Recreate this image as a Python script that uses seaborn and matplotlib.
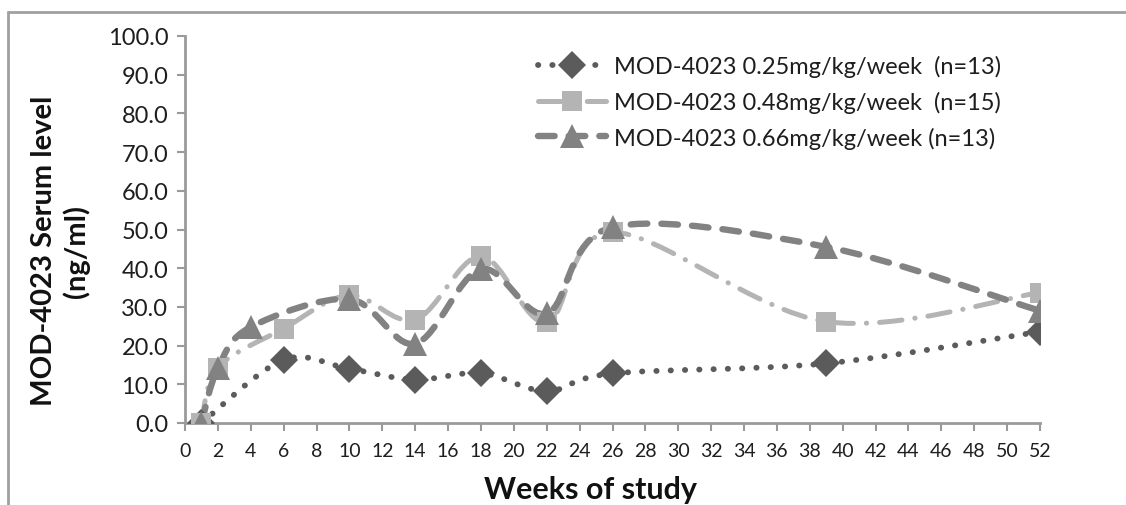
import numpy as np
import pandas as pd
import matplotlib
matplotlib.use("Agg")
import matplotlib.pyplot as plt
import seaborn as sns
from matplotlib.path import Path
from matplotlib.patches import PathPatch
from matplotlib.lines import Line2D

# ---- data ----
weeks_025 = [1, 6, 10, 14, 18, 22, 26, 39, 52]
level_025 = [0.0, 16.3, 14.0, 11.2, 12.9, 8.2, 12.8, 15.4, 23.6]
weeks_048 = [1, 2, 6, 10, 14, 18, 22, 26, 39, 52]
level_048 = [0.0, 14.3, 24.4, 33.0, 26.7, 43.1, 26.0, 49.3, 26.2, 33.7]
weeks_066 = [1, 2, 4, 10, 14, 18, 22, 26, 39, 52]
level_066 = [0.0, 14.2, 24.8, 32.0, 20.5, 39.8, 28.3, 50.6, 45.5, 29.0]
series_labels = ["MOD-4023 0.25mg/kg/week  (n=13)",
                 "MOD-4023 0.48mg/kg/week  (n=15)",
                 "MOD-4023 0.66mg/kg/week (n=13)"]
x_ticks = list(range(0, 53, 2))
y_ticks = list(range(0, 101, 10))

df = pd.concat([
    pd.DataFrame({"week": weeks_025, "level": level_025, "series": series_labels[0]}),
    pd.DataFrame({"week": weeks_048, "level": level_048, "series": series_labels[1]}),
    pd.DataFrame({"week": weeks_066, "level": level_066, "series": series_labels[2]}),
], ignore_index=True)

sns.set_theme(style="white")
plt.rcParams["font.family"] = ["Lato", "DejaVu Sans"]

colors = {series_labels[0]: "#5b5b5b", series_labels[1]: "#b4b4b4", series_labels[2]: "#828282"}
markers = {series_labels[0]: "D", series_labels[1]: "s", series_labels[2]: "^"}
msizes = {series_labels[0]: 14, series_labels[1]: 15, series_labels[2]: 17}
lstyles = {series_labels[0]: (0, (0.05, 2.4)),
           series_labels[1]: (0, (4.5, 2.6, 0.05, 2.6)),
           series_labels[2]: (0, (2.6, 2.2))}
lwidths = {series_labels[0]: 4.2, series_labels[1]: 3.6, series_labels[2]: 4.6}

fig = plt.figure(figsize=(11.26, 5.06), dpi=100)
ax = fig.add_axes([185 / 1126, 1 - 424 / 506, (1040 - 185) / 1126, (424 - 37) / 506])


def smooth_path(xs, ys):
    pts = np.column_stack([xs, ys]).astype(float)
    n = len(pts)
    verts = [pts[0]]
    codes = [Path.MOVETO]
    for i in range(n - 1):
        p0 = pts[i - 1] if i > 0 else pts[i]
        p1 = pts[i]
        p2 = pts[i + 1]
        p3 = pts[i + 2] if i + 2 < n else pts[i + 1]
        c1 = p1 + (p2 - p0) / 6.0
        c2 = p2 - (p3 - p1) / 6.0
        verts += [c1, c2, p2]
        codes += [Path.CURVE4] * 3
    return Path(verts, codes)


for name in series_labels:
    sub = df[df["series"] == name]
    patch = PathPatch(smooth_path(sub["week"].values, sub["level"].values),
                      fill=False, edgecolor=colors[name], lw=lwidths[name],
                      linestyle=lstyles[name], capstyle="round", joinstyle="round",
                      transform=ax.transData, zorder=2)
    ax.add_patch(patch)
    sns.lineplot(data=sub, x="week", y="level", ax=ax, linestyle="none",
                 marker=markers[name], markersize=msizes[name], color=colors[name],
                 markeredgewidth=0, legend=False, zorder=3)

ax.set_xlim(0, 52)
ax.set_ylim(0, 100)
ax.set_xticks(x_ticks)
ax.set_xticklabels([str(t) for t in x_ticks], fontsize=14, color="#1e1e1e")
ax.set_yticks(y_ticks)
ax.set_yticklabels([f"{t:.1f}" for t in y_ticks], fontsize=17, color="#1e1e1e")
ax.tick_params(axis="both", direction="out", length=6, width=1.5, color="#9a9a9a",
               bottom=True, left=True)
ax.tick_params(axis="x", pad=8)
ax.tick_params(axis="y", pad=6)
for side in ["top", "right"]:
    ax.spines[side].set_visible(False)
for side in ["left", "bottom"]:
    ax.spines[side].set_color("#9a9a9a")
    ax.spines[side].set_linewidth(2)
ax.grid(False)

ax.set_xlabel("Weeks of study", fontsize=22, fontweight="bold", color="#111111")
ax.xaxis.set_label_coords((591 - 185) / 855, (424 - 476) / 387)
ax.set_ylabel("MOD-4023 Serum level\n(ng/ml)", fontsize=21, fontweight="bold",
              color="#111111", linespacing=1.25)
ax.yaxis.set_label_coords((90 - 185) / 855, (424 - 251) / 387)

handles = [Line2D([], [], color=colors[n], lw=lwidths[n], linestyle=lstyles[n],
                  dash_capstyle="round", marker=markers[n], markersize=msizes[n],
                  markeredgewidth=0) for n in series_labels]
leg = ax.legend(handles, series_labels, loc="upper left",
                bbox_to_anchor=(538 / 1126, 1 - 56 / 506), bbox_transform=fig.transFigure,
                frameon=False, fontsize=17, handlelength=2.9, handletextpad=0.3,
                labelspacing=0.58, borderpad=0, borderaxespad=0)
for t in leg.get_texts():
    t.set_color("#1e1e1e")

# outer chart-area border (top and left edges visible in the reference)
fig.add_artist(Line2D([8 / 1126, 1.0], [1 - 13 / 506, 1 - 13 / 506],
                      transform=fig.transFigure, color="#a0a0a0", lw=2))
fig.add_artist(Line2D([8 / 1126, 8 / 1126], [0.0, 1 - 13 / 506],
                      transform=fig.transFigure, color="#a0a0a0", lw=2))

fig.savefig("out.png", dpi=100)
